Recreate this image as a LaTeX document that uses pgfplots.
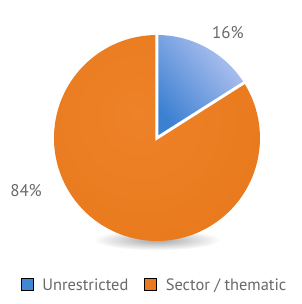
\documentclass[border=0pt]{standalone}
\usepackage{fontspec}
\setmainfont{PT Sans}
\usepackage{pgfplots}
\pgfplotsset{compat=1.18}
\definecolor{orA}{RGB}{238,130,40}
\definecolor{orB}{RGB}{233,122,30}
\definecolor{orM}{RGB}{226,115,26}
\definecolor{orC}{RGB}{196,95,22}
\definecolor{blA}{RGB}{60,128,210}
\definecolor{blM}{RGB}{78,144,218}
\definecolor{blB}{RGB}{180,196,240}
\definecolor{blL}{RGB}{65,135,210}
\definecolor{orL}{RGB}{235,122,30}
\definecolor{txt}{RGB}{105,105,105}
\pgfdeclareradialshading{pieor}{\pgfpoint{-5bp}{6bp}}{color(0bp)=(orA); color(30bp)=(orB); color(46bp)=(orM); color(56bp)=(orC); color(80bp)=(orC)}
% data (percent)
\def\pU{16}
\def\pS{84}
\begin{document}
\begin{tikzpicture}
\pgfmathsetmacro{\aU}{90-3.6*\pU}
\pgfmathsetmacro{\aS}{90+3.6*\pS}
\pgfmathsetmacro{\cx}{1.03*cos(\aU)}
\pgfmathsetmacro{\sy}{1.03*sin(\aU)}
\begin{axis}[
  scale only axis, width=302bp, height=304bp,
  xmin=-1.524, xmax=1.408, ymin=-1.612, ymax=1.340,
  hide axis, clip=false,
  legend columns=2,
  legend image code/.code={\fill[#1] (0bp,-5bp) rectangle (12bp,7bp);},
  legend style={at={(rel axis cs:0.512,0.0625)}, anchor=center, draw=none, fill=none,
    text=txt, font=\fontsize{16.5}{18}\selectfont,
    /tikz/every odd column/.append style={column sep=7bp},
    /tikz/every even column/.append style={column sep=14bp}},
]
\path (rel axis cs:0,0) rectangle (rel axis cs:1,1);
\shade[inner color=black!35, outer color=white] (axis cs:0,-0.99) ellipse [x radius=0.62*103bp, y radius=0.1*103bp];
\addplot[forget plot, draw=none, shade, shading=pieor, domain=90:\aS, samples=120, variable=\t]
  ({cos(\t)},{sin(\t)}) -- (axis cs:0,0) -- cycle;
\addplot[forget plot, draw=none, bottom color=blA, middle color=blM, top color=blB, shading angle=-50, domain=\aU:90, samples=40, variable=\t]
  ({cos(\t)},{sin(\t)}) -- (axis cs:0,0) -- cycle;
\addplot[forget plot, draw=white, line width=3pt, line join=miter] coordinates {(0,1.03) (0,0) (\cx,\sy)};
\addlegendimage{fill=blL}
\addlegendentry{Unrestricted}
\addlegendimage{fill=orL}
\addlegendentry{Sector / thematic}
\node[text=txt, font=\fontsize{17}{19}\selectfont] at (axis cs:0.689,1.024) {16\%};
\node[text=txt, font=\fontsize{17}{19}\selectfont] at (axis cs:-1.271,-0.515) {84\%};
\end{axis}
\end{tikzpicture}
\end{document}
